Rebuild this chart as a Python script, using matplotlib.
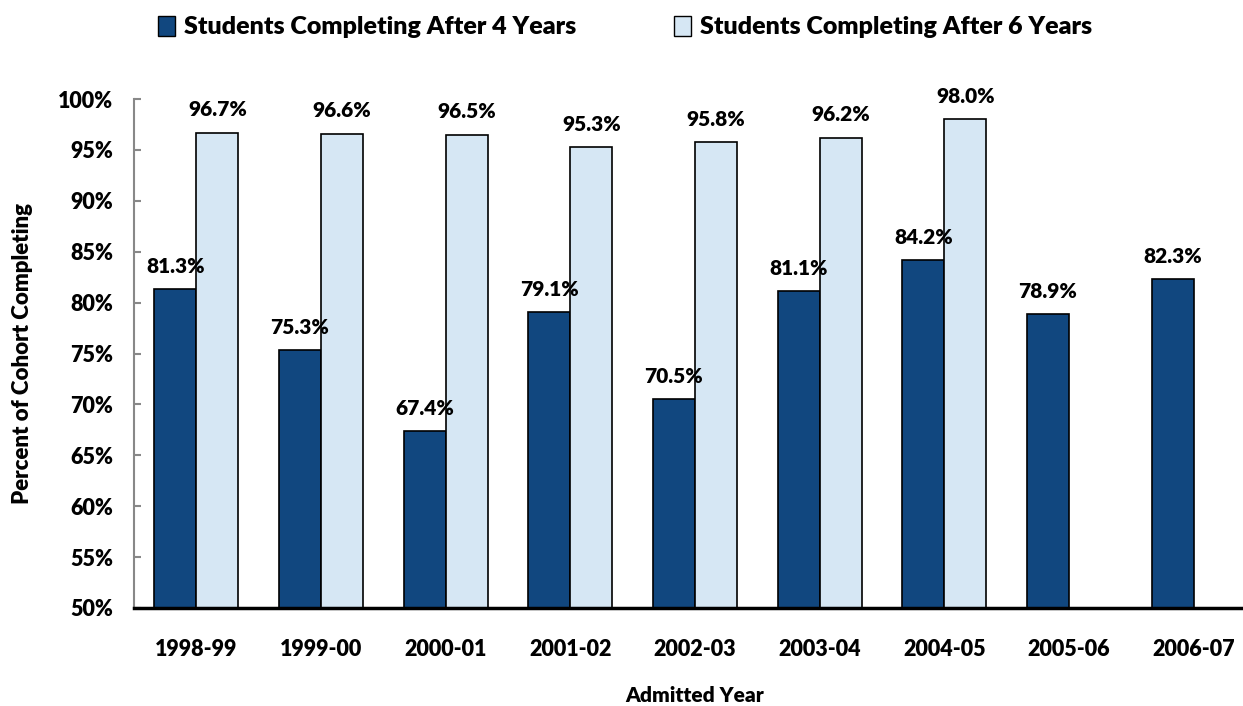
import matplotlib.pyplot as plt
import numpy as np
from matplotlib.patches import Patch

years = ["1998-99", "1999-00", "2000-01", "2001-02", "2002-03",
         "2003-04", "2004-05", "2005-06", "2006-07"]
four_year = [81.3, 75.3, 67.4, 79.1, 70.5, 81.1, 84.2, 78.9, 82.3]
six_year = [96.7, 96.6, 96.5, 95.3, 95.8, 96.2, 98.0, None, None]

dark = "#11477f"
light = "#d6e7f4"
WT = "heavy"

plt.rcParams['font.family'] = ['Lato', 'DejaVu Sans']

fig = plt.figure(figsize=(12.43, 7.06), dpi=100)
# axes run a bit past the right edge, like the original
ax = fig.add_axes([134 / 1243, 1 - 608 / 706, 1122 / 1243, 509 / 706])

x = np.arange(len(years))
w = 0.337
ax.bar(x - w / 2, four_year, w, color=dark, edgecolor="black", linewidth=1.2, zorder=2)
for i, v in enumerate(six_year):
    if v is not None:
        ax.bar(x[i] + w / 2, v, w, color=light, edgecolor="black", linewidth=1.2, zorder=2)

for i, v in enumerate(four_year):
    ax.text(x[i] - w / 2, v + 1.3, f"{v:.1f}%", ha="center", va="bottom",
            fontsize=15, fontweight=WT)
for i, v in enumerate(six_year):
    if v is not None:
        ax.text(x[i] + w / 2, v + 1.3, f"{v:.1f}%", ha="center", va="bottom",
                fontsize=15, fontweight=WT)

ax.set_ylim(50, 100)
ax.set_xlim(-0.5, len(years) - 0.5)
ax.set_yticks(range(50, 101, 5))
ax.set_yticklabels([f"{t}%" for t in range(50, 101, 5)], fontsize=15.5, fontweight=WT)
ax.set_xticks(x)
ax.set_xticklabels(years, fontsize=15.5, fontweight=WT)
ax.tick_params(axis="x", length=0, pad=22)
ax.tick_params(axis="y", length=5, color="#888888", width=1.5, direction="in", pad=15)

for s in ["top", "right"]:
    ax.spines[s].set_visible(False)
ax.spines["left"].set_color("#888888")
ax.spines["left"].set_linewidth(1.5)
ax.spines["bottom"].set_color("black")
ax.spines["bottom"].set_linewidth(2.5)
ax.spines["bottom"].set_zorder(3)

fig.text(23 / 1243, 1 - 353 / 706, "Percent of Cohort Completing", rotation=90,
         ha="center", va="center", fontsize=16, fontweight=WT)
fig.text(695 / 1243, 1 - 696 / 706, "Admitted Year", ha="center", va="center",
         fontsize=15, fontweight=WT)

handles = [Patch(facecolor=dark, edgecolor="black", linewidth=1),
           Patch(facecolor=light, edgecolor="black", linewidth=1)]
fig.legend(handles, ["Students Completing After 4 Years", "Students Completing After 6 Years"],
           loc="center", bbox_to_anchor=(625 / 1243, 1 - 27 / 706), ncol=2, frameon=False,
           prop={"size": 18, "weight": WT}, handlelength=0.7, handleheight=0.9,
           handletextpad=0.35, columnspacing=3.9)

fig.savefig("out.png", dpi=100)
